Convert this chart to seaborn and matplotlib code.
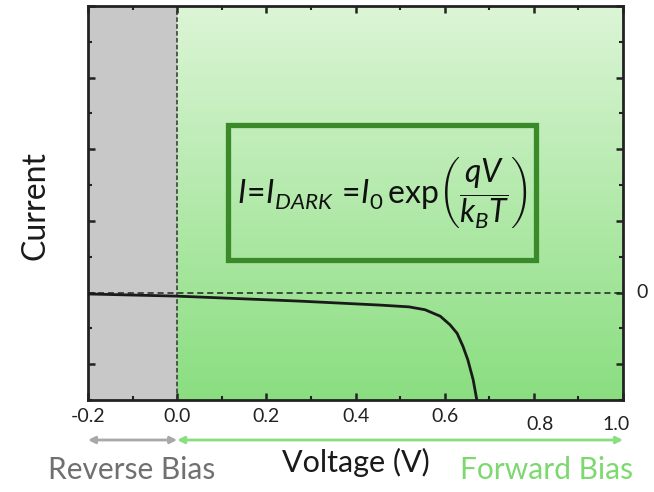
import numpy as np
import pandas as pd
import matplotlib
matplotlib.use("Agg")
import matplotlib.pyplot as plt
from matplotlib.colors import LinearSegmentedColormap
from matplotlib.patches import Rectangle
from matplotlib.ticker import MultipleLocator
import matplotlib.transforms as mtransforms
import seaborn as sns

# ---- data ----
voltage = [-0.2, 0.0, 0.276, 0.455, 0.52, 0.556, 0.59, 0.612, 0.628, 0.641, 0.652, 0.664, 0.673]
current = [-0.02, -0.05, -0.12, -0.175, -0.20, -0.24, -0.33, -0.45, -0.57, -0.75, -0.94, -1.22, -1.53]
xtick_vals = [-0.2, 0.0, 0.2, 0.4, 0.6, 0.8, 1.0]
xtick_labels = ["-0.2", "0.0", "0.2", "0.4", "0.6", "0.8", "1.0"]

sns.set_theme(style="ticks")
plt.rcParams['font.family'] = ['Lato', 'DejaVu Sans']
plt.rcParams['mathtext.fontset'] = 'custom'
plt.rcParams['mathtext.rm'] = 'Lato'
plt.rcParams['mathtext.it'] = 'Lato:italic'

fig = plt.figure(figsize=(6.54, 4.92), dpi=100)
ax = fig.add_axes([88/654, 1-400/492, 535/654, 394/492])
ax.set_xlim(-0.2, 1.0)
ax.set_ylim(-1.5, 4.0)

# backgrounds
ax.axvspan(-0.2, 0.0, color="#c8c8c8", zorder=0, lw=0)
cmap = LinearSegmentedColormap.from_list("g", ["#8ade80", "#dcf5d6"])
grad = np.linspace(0, 1, 256).reshape(-1, 1)
ax.imshow(grad, cmap=cmap, origin="lower", extent=[0.0, 1.0, -1.5, 4.0],
          aspect="auto", zorder=0)

# reference lines
ax.axhline(0, color="#222222", ls=(0, (4, 2.5)), lw=1.1, zorder=2)
ax.axvline(0, color="#333333", ls=(0, (3, 1.5)), lw=1.1, zorder=2)

df = pd.DataFrame({"V": voltage, "I": current})
sns.lineplot(data=df, x="V", y="I", ax=ax, color="#1a1a1a", lw=2.0, zorder=3)
ax.set_xlabel("")
ax.set_ylabel("")

# ticks
ax.xaxis.set_major_locator(MultipleLocator(0.2))
ax.xaxis.set_minor_locator(MultipleLocator(0.1))
ax.yaxis.set_major_locator(MultipleLocator(1.0))
ax.yaxis.set_minor_locator(MultipleLocator(0.5))
ax.tick_params(which="both", direction="in", top=True, right=True,
               labelbottom=False, labelleft=False, color="#222222")
ax.tick_params(which="major", length=5, width=1.8)
ax.tick_params(which="minor", length=3, width=1.5)
for s in ax.spines.values():
    s.set_linewidth(2.0)
    s.set_color("#222222")

# x tick labels as text (0.8 and 1.0 sit a bit lower in the reference)
trans = mtransforms.blended_transform_factory(ax.transData, fig.transFigure)
offsets = {"0.8": (0.014, -0.016), "1.0": (-0.015, -0.016)}
for v, lab in zip(xtick_vals, xtick_labels):
    dx, dy = offsets.get(lab, (0, 0))
    ax.text(v + dx, 1 - 417/492 + dy, lab, transform=trans, ha="center",
            va="center", fontsize=14, color="#222222")

ax.text(1.025, 0.0, "0", transform=mtransforms.blended_transform_factory(ax.transAxes, ax.transData),
        ha="left", va="center", fontsize=14, color="#222222")

# arrows
ax.annotate("", xy=(-0.2, 1-440/492), xytext=(0.0, 1-440/492), xycoords=trans,
            textcoords=trans, arrowprops=dict(arrowstyle="<|-|>", color="#a8a8a8",
                                              lw=2, mutation_scale=10, shrinkA=0, shrinkB=0),
            annotation_clip=False)
ax.annotate("", xy=(0.0, 1-440/492), xytext=(1.0, 1-440/492), xycoords=trans,
            textcoords=trans, arrowprops=dict(arrowstyle="<|-|>", color="#8ade80",
                                              lw=2, mutation_scale=10, shrinkA=0, shrinkB=0),
            annotation_clip=False)

fig.text(132/654, 1-470/492, "Reverse Bias", ha="center", va="center", fontsize=21.5, color="#707070")
fig.text(546/654, 1-470/492, "Forward Bias", ha="center", va="center", fontsize=21.5, color="#7ed870")
fig.text(356/654, 1-462/492, "Voltage (V)", ha="center", va="center", fontsize=22, color="#1a1a1a")
fig.text(35/654, 1-205/492, "Current", ha="center", va="center", rotation=90, fontsize=23, color="#1a1a1a")

# equation box
x0, x1 = (228-88)/535, (536-88)/535
y0, y1 = (400-260)/394, (400-125)/394
ax.add_patch(Rectangle((x0, y0), x1-x0, y1-y0, transform=ax.transAxes, fill=False,
                       ec="#3b8a2a", lw=3.8, zorder=4))
ax.text((x0+x1)/2, (y0+y1)/2,
        r"$I\!=\!I_{DARK}\,=\!I_0\,\mathrm{exp}\left(\dfrac{qV}{k_BT}\right)$",
        transform=ax.transAxes, ha="center", va="center", fontsize=23, color="#111111", zorder=5)

fig.savefig("out.png", dpi=100)
